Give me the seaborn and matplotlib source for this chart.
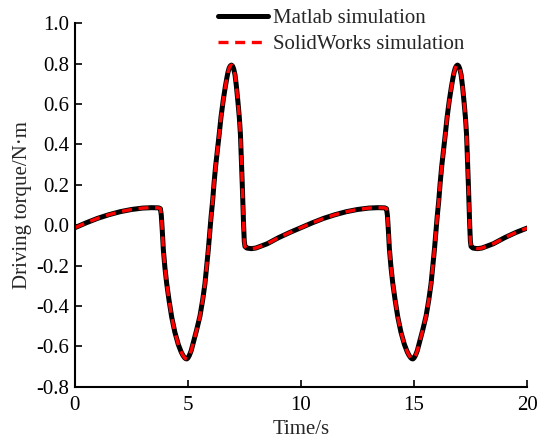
import numpy as np
import pandas as pd
import seaborn as sns
import matplotlib.pyplot as plt

# Values (both curves coincide)
time = [
    0.0, 0.5, 1.0, 1.5, 2.0, 2.5, 3.0, 3.4, 3.7, 3.78, 3.82, 3.86, 3.91, 3.98,
    4.06, 4.16, 4.28, 4.42, 4.57, 4.70, 4.78, 4.85, 4.90, 4.95, 5.00, 5.06,
    5.14, 5.24, 5.38, 5.53, 5.65, 5.75, 5.83, 5.90, 5.96, 6.02, 6.09, 6.15,
    6.22, 6.30, 6.38, 6.46, 6.56, 6.65, 6.72, 6.77, 6.82, 6.87, 6.92, 6.97,
    7.02, 7.08, 7.14, 7.21, 7.27, 7.32, 7.36, 7.40, 7.43, 7.46, 7.49, 7.52,
    7.6, 7.8, 8.0, 8.5, 9.0, 9.5,
    10.0, 10.5, 11.0, 11.5, 12.0, 12.5, 13.0, 13.4, 13.7, 13.78, 13.82, 13.86,
    13.91, 13.98, 14.06, 14.16, 14.28, 14.42, 14.57, 14.70, 14.78, 14.85,
    14.90, 14.95, 15.00, 15.06, 15.14, 15.24, 15.38, 15.53, 15.65, 15.75,
    15.83, 15.90, 15.96, 16.02, 16.09, 16.15, 16.22, 16.30, 16.38, 16.46,
    16.56, 16.65, 16.72, 16.77, 16.82, 16.87, 16.92, 16.97, 17.02, 17.08,
    17.14, 17.21, 17.27, 17.32, 17.36, 17.40, 17.43, 17.46, 17.49, 17.52,
    17.6, 17.8, 18.0, 18.5, 19.0, 19.5, 20.0,
]
torque = [
    -0.012, 0.012, 0.034, 0.052, 0.067, 0.078, 0.085, 0.087, 0.086, 0.082,
    0.05, -0.02, -0.12, -0.21, -0.29, -0.37, -0.455, -0.53, -0.59, -0.628,
    -0.645, -0.656, -0.661, -0.662, -0.657, -0.645, -0.622, -0.58, -0.52,
    -0.45, -0.37, -0.29, -0.20, -0.12, -0.04, 0.04, 0.12, 0.205, 0.29, 0.37,
    0.45, 0.535, 0.62, 0.685, 0.730, 0.758, 0.778, 0.789, 0.793, 0.789,
    0.775, 0.745, 0.69, 0.61, 0.535, 0.45, 0.33, 0.205, 0.10, 0.0, -0.08,
    -0.105, -0.113, -0.116, -0.113, -0.092, -0.062, -0.036,
    -0.012, 0.012, 0.034, 0.052, 0.067, 0.078, 0.085, 0.087, 0.086, 0.082,
    0.05, -0.02, -0.12, -0.21, -0.29, -0.37, -0.455, -0.53, -0.59, -0.628,
    -0.645, -0.656, -0.661, -0.662, -0.657, -0.645, -0.622, -0.58, -0.52,
    -0.45, -0.37, -0.29, -0.20, -0.12, -0.04, 0.04, 0.12, 0.205, 0.29, 0.37,
    0.45, 0.535, 0.62, 0.685, 0.730, 0.758, 0.778, 0.789, 0.793, 0.789,
    0.775, 0.745, 0.69, 0.61, 0.535, 0.45, 0.33, 0.205, 0.10, 0.0, -0.08,
    -0.105, -0.113, -0.116, -0.113, -0.092, -0.062, -0.036, -0.014,
]

y_ticks = [-0.8, -0.6, -0.4, -0.2, 0.0, 0.2, 0.4, 0.6, 0.8, 1.0]
y_tick_labels = ["-0.8", "-0.6", "-0.4", "-0.2", "0.0", "0.2", "0.4", "0.6", "0.8", "1.0"]

df = pd.DataFrame({"time": time, "torque": torque})

sns.set_theme(style="ticks")
plt.rcParams["font.family"] = ["Liberation Serif", "DejaVu Serif"]
plt.rcParams["axes.unicode_minus"] = False

fig = plt.figure(figsize=(5.39, 4.4), dpi=100)
ax = fig.add_axes([0.139, 0.121, 0.839, 0.826])

sns.lineplot(data=df, x="time", y="torque", ax=ax, color="black",
             linewidth=3.6, label="Matlab simulation", estimator=None)
sns.lineplot(data=df, x="time", y="torque", ax=ax, color="red",
             linewidth=2.4, linestyle=(0, (3, 2)), label="SolidWorks simulation",
             estimator=None)

ax.set_xlim(0, 20)
ax.set_ylim(-0.8, 1.0)
ax.set_xticks([0, 5, 10, 15, 20])
ax.set_yticks(y_ticks)
ax.set_yticklabels(y_tick_labels)
ax.tick_params(direction="in", length=5, width=1.2, labelsize=15, colors="black")
ax.tick_params(axis="x", pad=7)
ax.tick_params(axis="y", pad=4)
for s in ["left", "bottom"]:
    ax.spines[s].set_linewidth(1.5)
    ax.spines[s].set_color("black")
sns.despine(ax=ax)

ax.set_xlabel("Time/s", fontsize=15, labelpad=3)
ax.set_ylabel("Driving torque/N·m", fontsize=15, labelpad=3)

ax.legend(loc="upper left", bbox_to_anchor=(0.316, 1.04), frameon=False,
          fontsize=15, handlelength=2.4, handletextpad=0.25, borderpad=0,
          borderaxespad=0, labelspacing=0.3)

fig.savefig("out.png", dpi=100)
